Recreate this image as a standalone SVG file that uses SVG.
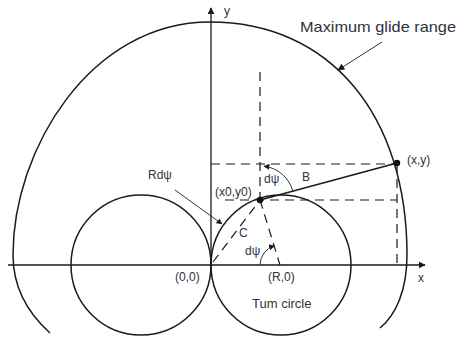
<svg xmlns="http://www.w3.org/2000/svg" width="458" height="338" viewBox="0 0 458 338">
<defs>
<style>
.s{fill:none;stroke:#1a1a1a;stroke-width:1.5}
.ax{fill:none;stroke:#1a1a1a;stroke-width:1.3}
.d{fill:none;stroke:#1a1a1a;stroke-width:1.2;stroke-dasharray:9,6}
.t{font-family:"Liberation Sans",Arial,sans-serif;font-size:12px;fill:#2d3340}
.thin{fill:none;stroke:#333;stroke-width:1}
</style>
<marker id="ah" viewBox="0 0 10 10" refX="9" refY="5" markerWidth="7" markerHeight="7" orient="auto-start-reverse" markerUnits="userSpaceOnUse">
<path d="M0,0 L10,5 L0,10 z" fill="#1a1a1a"/>
</marker>
<marker id="ahs" viewBox="0 0 10 10" refX="9" refY="5" markerWidth="6" markerHeight="6" orient="auto" markerUnits="userSpaceOnUse">
<path d="M0,0 L10,5 L0,10 z" fill="#1a1a1a"/>
</marker>
</defs>
<rect width="458" height="338" fill="#fff"/>
<g id="axes">
<line class="ax" x1="8" y1="265" x2="425" y2="265" marker-end="url(#ah)"/>
<line class="ax" x1="211" y1="265" x2="211" y2="8" marker-end="url(#ah)"/>
<text class="t" x="418" y="282">x</text>
<text class="t" x="224" y="15">y</text>
</g>
<g id="glide-range">
<path class="s" d="M50,333 C30,315 13,290 13,255 C13,150 90,22 210,22 C330,22 407,115 407,255 C407,290 396,315 380,328"/>
<text class="t" x="300" y="32" style="font-size:15px" textLength="156" lengthAdjust="spacingAndGlyphs">Maximum glide range</text>
</g>
<g id="left-circle">
<circle class="s" cx="141" cy="265" r="70"/>
</g>
<g id="turn-circle">
<circle class="s" cx="281" cy="265" r="70"/>
<text class="t" x="252" y="308" style="font-size:13px">Tum circle</text>
</g>
<g id="connectors">
<line class="d" x1="260" y1="72" x2="260" y2="200"/>
<line class="d" x1="211" y1="164" x2="397" y2="164"/>
<line class="d" x1="225" y1="200" x2="397" y2="200"/>
<line class="d" x1="397" y1="164" x2="397" y2="265"/>
<line class="d" x1="260" y1="200" x2="280" y2="265"/>
<line class="d" x1="213" y1="262" x2="260" y2="200"/>
<line class="s" x1="260" y1="200" x2="397" y2="163"/>
<path class="thin" d="M292.8,191.1 A34,34 0 0 0 264,166.2" marker-end="url(#ahs)"/>
<path class="thin" d="M260,265 A20,20 0 0 1 274.5,245.8" marker-end="url(#ahs)"/>
<line class="thin" x1="175" y1="190" x2="222" y2="224" marker-end="url(#ahs)"/>
<line class="thin" x1="382" y1="42" x2="338" y2="70" marker-end="url(#ah)"/>
</g>
<g id="points">
<circle cx="260" cy="200" r="3.2" fill="#111"/>
<circle cx="397" cy="163" r="3.2" fill="#111"/>
<text class="t" x="215" y="196">(x0,y0)</text>
<text class="t" x="407" y="164">(x,y)</text>
<text class="t" x="175" y="281">(0,0)</text>
<text class="t" x="268" y="281">(R,0)</text>
<text class="t" x="148" y="179">Rdψ</text>
<text class="t" x="264" y="183">dψ</text>
<text class="t" x="245" y="255">dψ</text>
<text class="t" x="302" y="181">B</text>
<text class="t" x="239" y="237">C</text>
</g>
</svg>
